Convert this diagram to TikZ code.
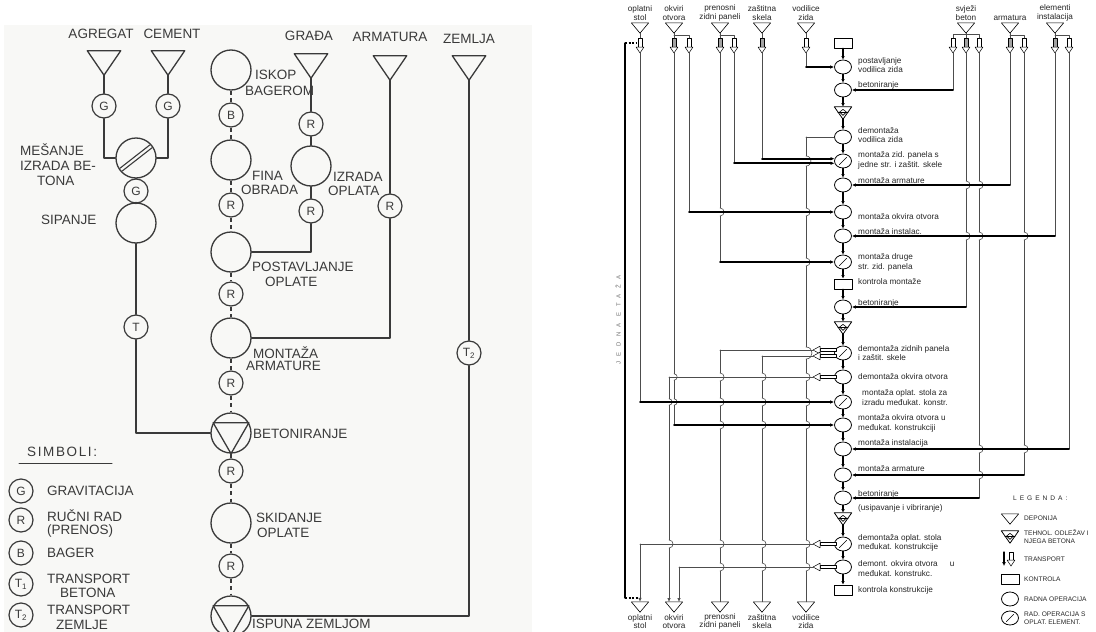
\documentclass[tikz,border=0pt]{standalone}
\usepackage{fontspec}
\setmainfont{Liberation Sans}
\usetikzlibrary{arrows.meta,calc,shapes.geometric}
\definecolor{scanink}{HTML}{3A3A3A}
\definecolor{scanpaper}{HTML}{F8F8F6}
\definecolor{laneink}{HTML}{4D4D4D}
\definecolor{shaftfill}{HTML}{A3A3A3}
\definecolor{textdark}{HTML}{262626}

\begin{document}
\begin{tikzpicture}[
  x=1pt,y=-1pt,line cap=round,line join=round,
  sline/.style={scanink,line width=1.3pt},
  slink/.style={sline,line cap=butt,dash pattern=on 4pt off 3.5pt},
  bigop/.style={circle,draw=scanink,line width=1.3pt,minimum size=40pt,inner sep=0pt},
  mover/.style={circle,draw=scanink,line width=1.2pt,minimum size=24pt,inner sep=0pt,
    text=scanink,font=\fontsize{12}{12}\selectfont},
  pile/.style={minimum width=33pt,minimum height=24pt,inner sep=0pt},
  caps/.style={text=scanink,inner sep=0pt,font=\fontsize{13.5}{15}\selectfont},
  depotbox/.style={minimum width=17pt,minimum height=10pt,inner sep=0pt},
  radna/.style={ellipse,draw,line width=0.8pt,minimum width=17pt,minimum height=14pt,inner sep=0pt},
  oplatna/.style={radna,path picture={\draw[line width=0.6pt]
      ($(path picture bounding box.center)+(-3.6pt,-3.6pt)$) --
      ($(path picture bounding box.center)+(3.6pt,3.6pt)$);}},
  kontrola/.style={rectangle,draw,line width=0.8pt,minimum width=18pt,minimum height=10pt,inner sep=0pt},
  odlezav/.style={rectangle,minimum width=17pt,minimum height=12pt,inner sep=0pt},
  lane/.style={laneink,line width=0.6pt},
  feed/.style={black,line width=1.6pt,-{Latex[length=4pt,width=3.6pt]}},
  flow/.style={black,line width=1.4pt,-{Latex[length=3.6pt,width=3.6pt]}},
  opis/.style={anchor=west,align=left,inner sep=0pt,text=textdark,font=\fontsize{8.2}{9.6}\selectfont},
  naziv/.style={align=center,inner sep=0pt,text=textdark,font=\fontsize{8.2}{9.6}\selectfont},
  legtxt/.style={anchor=west,align=left,inner sep=0pt,text=textdark,font=\fontsize{6.6}{7.8}\selectfont}
]
  \fill[white] (0,0) rectangle (1096,632);
  \useasboundingbox (0,0) rectangle (1096,632);
  \fill[scanpaper] (4,25) rectangle (532,632);

  % ---- scheme of the works (left) ----
  \node[caps] (c-agr) at (101,34) {AGREGAT};
  \node[caps] (c-cem) at (172,34) {CEMENT};
  \node[caps] (c-gra) at (309,36) {GRAĐA};
  \node[caps] (c-arm) at (390,37) {ARMATURA};
  \node[caps] (c-zem) at (469,39) {ZEMLJA};
  \foreach \n/\x/\y in {agr/104/63, cem/168/63, gra/311/66, arm/390/68, zem/469/68} {
    \node[pile] (p-\n) at (\x,\y) {};
    \draw[sline] (p-\n.north west) -- (p-\n.north east) -- (p-\n.south) -- cycle;
  }

  % concrete branch
  \node[mover] (g1) at (104,106) {G};
  \node[mover] (g2) at (168,106) {G};
  \node[bigop] (mix) at (136,158) {};
  \node[mover] (g3) at (136,191) {G};
  \node[bigop] (sip) at (136,223) {};
  \node[mover] (t1) at (136,327) {T};
  \draw[sline,line width=1.1pt] ($(mix.center)+(-16.1pt,-10.3pt)$) -- ($(mix.center)+(13.9pt,13.1pt)$);
  \draw[sline,line width=1.1pt] ($(mix.center)+(-13.9pt,-13.1pt)$) -- ($(mix.center)+(16.1pt,10.3pt)$);

  % main chain of operations
  \foreach \n/\s/\y/\t in {iskop/bigop/70/{}, b1/mover/115/B, fina/bigop/160/{}, r1/mover/205/R,
      post/bigop/252/{}, r2/mover/294/R, mont/bigop/338/{}, r3/mover/383/R, bet/bigop/433/{},
      r4/mover/471/R, skid/bigop/523/{}, r5/mover/566/R, isp/bigop/616/{}}
    \node[\s] (\n) at (231,\y) {\t};
  \foreach \a/\b in {iskop/b1, b1/fina, fina/r1, r1/post, post/r2, r2/mont, mont/r3,
      r3/bet, bet/r4, r4/skid, skid/r5, r5/isp}
    \draw[slink] (\a) -- (\b);
  \foreach \n in {bet,isp}
    \draw[sline] (\n.150) -- (\n.30) -- (\n.270) -- cycle;

  % side branches
  \node[mover] (r6) at (311,124) {R};
  \node[bigop] (izr) at (311,166) {};
  \node[mover] (r7) at (311,211) {R};
  \node[mover] (r8) at (390,206) {R};
  \node[mover] (t2) at (469,353) {T\textsubscript{2}};

  \draw[sline] (p-agr.south) -- (g1);
  \draw[sline] (p-cem.south) -- (g2);
  \draw[sline] (g1) |- (mix);
  \draw[sline] (g2) |- (mix);
  \draw[sline] (mix) -- (g3);
  \draw[sline] (g3) -- (sip);
  \draw[sline] (sip) -- (t1);
  \draw[sline] (t1) |- (bet);
  \draw[sline] (p-gra.south) -- (r6);
  \draw[sline] (r6) -- (izr);
  \draw[sline] (izr) -- (r7);
  \draw[sline] (r7) |- (post);
  \draw[sline] (p-arm.south) -- (r8);
  \draw[sline] (r8) |- (mont);
  \draw[sline] (p-zem.south) -- (t2);
  \draw[sline] (t2) |- (isp);

  % names of the operations
  \foreach \n/\x/\y/\t in {l-mes/20/150/MEŠANJE, l-izb/20/166/{IZRADA BE-}, l-ton/37/181/TONA,
      l-sip/41/220/SIPANJE, l-isk/255/75/ISKOP, l-bag/245/91/BAGEROM,
      l-fin/252/176/FINA, l-obr/241/190/OBRADA, l-izr/333/177/IZRADA, l-opl/328/191/OPLATA,
      l-pos/252/267/POSTAVLJANJE, l-op2/265/282/OPLATE, l-mon/253/353/MONTAŽA,
      l-arm/246/366/ARMATURE, l-bet/253/434/BETONIRANJE, l-ski/256/518/SKIDANJE,
      l-op3/257/533/OPLATE, l-isp/252/624/{ISPUNA ZEMLJOM}}
    \node[caps,anchor=west] (\n) at (\x,\y) {\t};

  % symbols
  \node[caps,anchor=west] (simb) at (27,452) {\addfontfeatures{LetterSpace=12}SIMBOLI:};
  \draw[sline,line width=1pt] (19,463) -- (112,463);
  \foreach \n/\y/\t in {s-g/491/G, s-r/520/R, s-b/553/B, s-t1/584/T\textsubscript{1}, s-t2/615/T\textsubscript{2}}
    \node[mover] (\n) at (21,\y) {\t};
  \foreach \n/\x/\y/\t in {k-gra/47/491/GRAVITACIJA, k-ruc/47/516/{RUČNI RAD}, k-pre/47/531/(PRENOS),
      k-bag/47/553/BAGER, k-tr1/47/579/TRANSPORT, k-btn/60/593/BETONA,
      k-tr2/47/610/TRANSPORT, k-zem/56/625/ZEMLJE}
    \node[caps,anchor=west] (\n) at (\x,\y) {\t};

  % ---- one storey (right) ----
  \foreach \n/\x/\t in {stol/640/{oplatni\\stol}, okvir/674/{okviri\\otvora},
      panel/720/{prenosni\\zidni paneli}, skela/762/{zaštitna\\skela},
      vodil/806/{vodilice\\zida}, beton/966/{svježi\\beton},
      inst/1055/{elementi\\instalacija}} {
    \node[naziv] (n-\n) at (\x,13) {\t};
    \node[depotbox] (d-\n) at (\x,28) {};
    \draw[line width=0.6pt] (d-\n.north west) -- (d-\n.north east) -- (d-\n.south) -- cycle;
  }
  \node[naziv] (n-arm) at (1010,18) {armatura};
  \node[depotbox] (d-arm) at (1010,28) {};
  \draw[line width=0.6pt] (d-arm.north west) -- (d-arm.north east) -- (d-arm.south) -- cycle;

  % transport arrows under the depots
  \foreach \x/\c in {640/white, 674/shaftfill, 689/white, 720/shaftfill, 734/white, 762/shaftfill,
      806/white, 953/white, 966/shaftfill, 979/white, 1010/shaftfill, 1024/white,
      1055/shaftfill, 1069/white} {
    \filldraw[fill=\c,line width=0.5pt] (\x-1.8,38) rectangle (\x+1.8,47);
    \filldraw[fill=white,line width=0.5pt] (\x-4,47) -- (\x+4,47) -- (\x,53) -- cycle;
    \coordinate (t\x) at (\x,53);
  }
  \foreach \n/\x in {stol/640, okvir/674, panel/720, skela/762, vodil/806, beton/966, arm/1010, inst/1055}
    \draw[lane] (d-\n.south) -- (\x,38);
  \draw[lane] (674,35) -| (689,38);
  \draw[lane] (720,35) -| (734,38);
  \draw[lane] (953,38) |- (979,34) -- (979,38);
  \draw[lane] (1010,35) -| (1024,38);
  \draw[lane] (1055,35) -| (1069,38);

  % depots at the bottom
  \foreach \n/\x/\t in {stol/640/{oplatni\\stol}, okvir/674/{okviri\\otvora},
      panel/720/{prenosni\\zidni paneli}, skela/762/{zaštitna\\skela}, vodil/806/{vodilice\\zida}} {
    \node[depotbox] (b-\n) at (\x,607) {};
    \draw[line width=0.6pt] (b-\n.north west) -- (b-\n.north east) -- (b-\n.south) -- cycle;
    \node[naziv,font=\fontsize{8.2}{8.6}\selectfont] (m-\n) at (\x,621.5) {\t};
  }

  % one storey bracket
  \coordinate (et-top) at (625,43);
  \coordinate (et-bot) at (625,598);
  \draw[black,line width=1.1pt] (et-top) -- (et-bot);
  \draw[black,line width=1.1pt,line cap=butt,dash pattern=on 2pt off 1.5pt] (et-top) -- ++(11,0);
  \draw[black,line width=1.1pt,line cap=butt,dash pattern=on 2pt off 1.5pt] (et-bot) -- ++(14,0);
  \node[rotate=90,inner sep=0pt,text=black!55,
    font=\fontsize{6}{6}\selectfont\addfontfeatures{LetterSpace=90}] (etaza) at (618,320) {JEDNA ETAŽA};

  % operations of the storey
  \foreach \n/\s/\y in {n1/kontrola/43, n2/radna/67, n3/radna/90, n4/odlezav/113, n5/radna/137,
      n6/oplatna/161, n7/radna/185, n8/radna/212, n9/radna/236, n10/oplatna/262,
      n11/kontrola/284, n12/radna/307, n13/odlezav/328, n14/oplatna/353, n15/radna/377,
      n16/oplatna/402, n17/radna/425, n18/radna/449, n19/radna/475, n20/radna/498,
      n21/odlezav/519, n22/oplatna/544, n23/radna/567, n24/kontrola/590}
    \node[\s] (\n) at (843,\y) {};

  % lanes from the depots down to the operations
  \foreach \x/\n in {640/n16, 674/n17, 689/n8, 720/n10, 806/n2, 953/n3, 966/n12,
      979/n20, 1010/n7, 1024/n19, 1055/n9, 1069/n18}
    \draw[lane] (t\x) -- (t\x |- \n);
  \draw[lane] (t734) -- (t734 |- n6.195);
  \draw[lane] (t762) -- (t762 |- n6.165);

  % lanes back to the depots
  \draw[lane] (n5 -| b-vodil) -- (b-vodil.north);
  \draw[lane] (720,350) -- (b-panel.north);
  \draw[lane] (762,356) -- (b-skela.north);
  \draw[lane,-{Latex[length=4pt,width=3.4pt]}] (669,377) -- (669,602);
  \draw[lane,-{Latex[length=4pt,width=3.4pt]}] (640,544) -- (b-stol.north);
  \draw[lane,-{Latex[length=4pt,width=3.4pt]}] (679,567) -- (679,602);

  % hops where a lane passes a crossing line
  \foreach \x/\y/\r in {806/161/5, 806/212/4, 806/262/4, 806/353/6, 806/377/4, 806/402/4,
      806/425/4, 806/544/4, 806/567/4, 720/377/4, 720/402/4, 720/425/4, 720/544/4,
      720/567/4, 762/377/4, 762/402/4, 762/425/4, 762/544/4, 762/567/4, 669/402/3.2,
      669/544/4, 674/377/3.2, 674/402/3.2, 720/212/4, 966/185/4, 966/236/4, 979/185/4,
      979/236/4, 979/449/4, 979/475/4, 1024/236/4, 1024/449/4} {
    \fill[white] (\x-1.1,\y-\r) rectangle (\x+1.1,\y+\r);
    \draw[lane] (\x,\y-\r) .. controls (\x+1.33*\r,\y-\r) and (\x+1.33*\r,\y+\r) .. (\x,\y+\r);
  }

  % feeds into the operations
  \foreach \x/\n in {640/n16, 674/n17, 689/n8, 720/n10, 806/n2, 953/n3, 966/n12,
      979/n20, 1010/n7, 1024/n19, 1055/n9, 1069/n18}
    \draw[feed] (t\x |- \n) -- (\n);
  \draw[feed] (t734 |- n6.195) -- (n6.195);
  \draw[feed] (t762 |- n6.165) -- (n6.165);

  % returns with open transport arrows
  \draw[lane] (n5) -- (n5 -| b-vodil);
  \foreach \y/\x in {350/720, 356/762, 377/669, 544/640, 567/679} {
    \filldraw[fill=white,line width=0.5pt] (836,\y-1.6) rectangle (820,\y+1.6);
    \filldraw[fill=white,line width=0.5pt] (820,\y-3.8) -- (820,\y+3.8) -- (813,\y) -- cycle;
    \coordinate (a\y) at (813,\y);
    \draw[lane] (a\y) -- (\x,\y);
  }

  % chain of the storey
  \foreach \n in {n4,n13,n21} {
    \draw[line width=0.8pt] (\n.north west) -- (\n.north east) -- (\n.south) -- cycle;
    \coordinate (\n-c) at ($(\n.north)!0.42!(\n.south)$);
    \draw[line width=0.6pt] ($(\n.north west)!0.42!(\n.south)$) -- ($(\n.north east)!0.42!(\n.south)$);
    \draw[line width=0.6pt] ($(\n-c)+(-3.4pt,0)$) -- ($(\n-c)+(0,2.6pt)$) -- ($(\n-c)+(3.4pt,0)$)
      -- ($(\n-c)+(0,-3.4pt)$) -- cycle;
  }
  \foreach \a/\b in {n1/n2, n2/n3, n3/n4, n4/n5, n5/n6, n6/n7, n7/n8, n8/n9, n9/n10, n10/n11,
      n11/n12, n12/n13, n13/n14, n14/n15, n15/n16, n16/n17, n17/n18, n18/n19, n19/n20,
      n20/n21, n21/n22, n22/n23, n23/n24}
    \draw[flow] (\a) -- (\b);

  % texts of the operations
  \foreach \n/\x/\y/\t in {l2/858/65/{postavljanje\\vodilica zida}, l3/858/85/betoniranje,
      l5/858/135/{demontaža\\vodilica zida}, l6/858/160.5/{montaža zid. panela s\\jedne str. i zaštit. skele},
      l7/858/181/{montaža armature}, l8/858/217/{montaža okvira otvora}, l9/858/232/{montaža instalac.},
      l10/858/262.5/{montaža druge\\str. zid. panela}, l11/858/282/{kontrola montaže},
      l12/858/303/betoniranje, l14/858/353/{demontaža zidnih panela\\i zaštit. skele},
      l15/858/377/{demontaža okvira otvora}, l16/862/397.5/{montaža oplat. stola za\\izradu međukat. konstr.},
      l17/858/423.5/{montaža okvira otvora u\\međukat. konstrukciji}, l18/858/443/{montaža instalacija},
      l19/858/469/{montaža armature}, l20/858/494/betoniranje, l20b/858/508/{(usipavanje i vibriranje)},
      l22/858/543/{demontaža oplat. stola\\međukat. konstrukcije},
      l23/858/568.5/{demont. okvira otvora\hspace{12pt}u\\međukat. konstrukc.},
      l24/858/590/{kontrola konstrukcije}}
    \node[opis] (\n) at (\x,\y) {\t};

  % legend
  \node[legtxt] (leg) at (1013,498) {\addfontfeatures{LetterSpace=45}LEGENDA:};
  \node[depotbox] (g-dep) at (1010,519) {};
  \draw[line width=0.6pt] (g-dep.north west) -- (g-dep.north east) -- (g-dep.south) -- cycle;
  \node[odlezav] (g-teh) at (1010,537) {};
  \draw[line width=0.8pt] (g-teh.north west) -- (g-teh.north east) -- (g-teh.south) -- cycle;
  \coordinate (g-teh-c) at ($(g-teh.north)!0.42!(g-teh.south)$);
  \draw[line width=0.6pt] ($(g-teh.north west)!0.42!(g-teh.south)$) -- ($(g-teh.north east)!0.42!(g-teh.south)$);
  \draw[line width=0.6pt] ($(g-teh-c)+(-3.4pt,0)$) -- ($(g-teh-c)+(0,2.6pt)$) -- ($(g-teh-c)+(3.4pt,0)$)
    -- ($(g-teh-c)+(0,-3.4pt)$) -- cycle;
  \coordinate (g-tr) at (1004,552);
  \draw[black,line width=1.2pt,-{Latex[length=4pt,width=4pt]}] (g-tr) -- ++(0,14);
  \filldraw[fill=white,line width=0.5pt] (1009.2,552) rectangle (1012.8,560);
  \filldraw[fill=white,line width=0.5pt] (1007,560) -- (1015,560) -- (1011,566) -- cycle;
  \node[kontrola] (g-kon) at (1010,579) {};
  \node[radna] (g-rad) at (1010,599) {};
  \node[oplatna] (g-opl) at (1010,618) {};
  \node[legtxt] (g-t1) at (1024,518) {DEPONIJA};
  \node[legtxt] (g-t2) at (1024,537) {TEHNOL. ODLEŽAV I\\NJEGA BETONA};
  \node[legtxt] (g-t3) at (1024,559) {TRANSPORT};
  \node[legtxt] (g-t4) at (1024,579) {KONTROLA};
  \node[legtxt] (g-t5) at (1024,599) {RADNA OPERACIJA};
  \node[legtxt] (g-t6) at (1024,618) {RAD. OPERACIJA S\\OPLAT. ELEMENT.};
\end{tikzpicture}
\end{document}
